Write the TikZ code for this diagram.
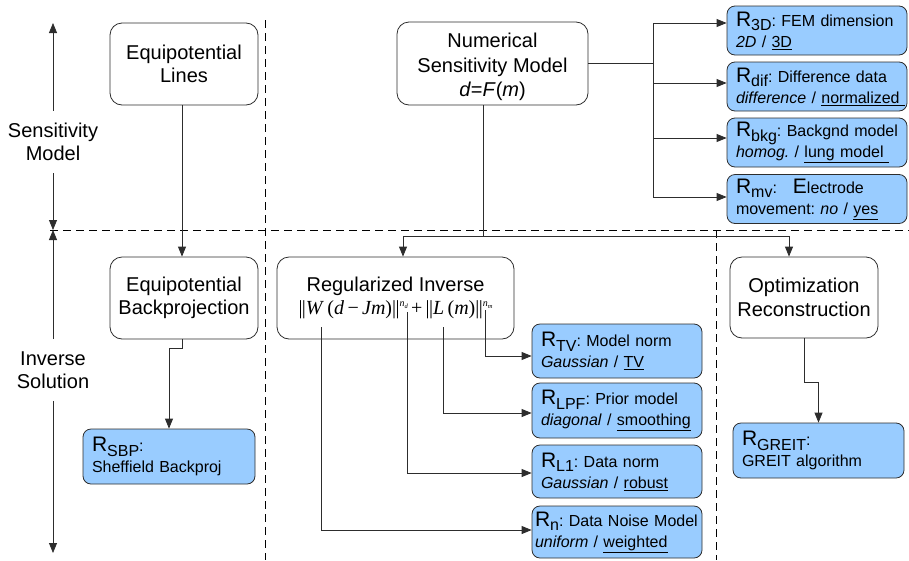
\documentclass[tikz,border=0pt]{standalone}
\usepackage{fontspec}
\setmainfont{Liberation Sans}
\newfontfamily\tms{Liberation Serif}
\usetikzlibrary{arrows.meta,calc}
\definecolor{boxblue}{RGB}{153,204,255}
\definecolor{edge}{RGB}{45,45,45}
\frenchspacing
\newcommand\Rs[1]{{\fontsize{21}{21}\selectfont R}\raisebox{-4.5pt}{\fontsize{16}{16}\selectfont #1}}
\newcommand\BigE{{\fontsize{21}{21}\selectfont E}}
\newcommand\Ln[1]{\mbox{#1}}
\newcommand\dbar{|\kern-0.6pt|}
\newcommand\Pw[2]{\raisebox{8pt}{\fontsize{10}{10}\selectfont\textit{#1}\raisebox{-2pt}{\fontsize{6.5}{6.5}\selectfont\textit{#2}}}}
\tikzset{
  proc/.style={draw=edge, line width=0.8pt, rounded corners=12pt, fill=white, align=center,
    font=\fontsize{20}{23.5}\selectfont, inner sep=2pt},
  rbox/.style={draw=edge, line width=0.8pt, rounded corners=8pt, fill=boxblue, align=left,
    font=\fontsize{16}{21}\selectfont, inner xsep=9pt, inner ysep=2pt, text width=162pt, minimum height=49pt},
  lab/.style={align=center, font=\fontsize{20}{23.5}\selectfont, inner xsep=2pt, inner ysep=12pt},
  arr/.style={-{Triangle[length=10pt,width=8pt]}, draw=edge, line width=0.8pt},
  conn/.style={draw=edge, line width=0.8pt},
  sep/.style={draw=black, line width=0.7pt, dash pattern=on 8pt off 5pt},
}
\begin{document}
\begin{tikzpicture}[x=1pt,y=-1pt]
\path[use as bounding box] (0,0) rectangle (909,560);

% separators
\draw[sep] (50,230) -- (909,230);
\draw[sep] (265,20) -- (265,560);
\draw[sep] (716,230) -- (716,560);

% left phase labels
\node[lab] (sm) at (53,142) {Sensitivity\\Model};
\node[lab] (is) at (53,370) {Inverse\\Solution};
\coordinate (smtop) at (53,23);
\coordinate (smbot) at (53,230);
\coordinate (istop) at (53,230);
\coordinate (isbot) at (53,553);
\draw[arr] (sm.north) -- (smtop);
\draw[arr] (sm.south) -- (smbot);
\draw[arr] (is.north) -- (istop);
\draw[arr] (is.south) -- (isbot);

% process boxes
\node[proc, minimum width=148pt, minimum height=82pt] (eqlines) at (184,64) {Equipotential\\Lines};
\node[proc, minimum width=191pt, minimum height=83pt, font=\fontsize{20}{24.5}\selectfont] (numsens) at (492.5,63.5) {\rule{0pt}{22pt}Numerical\\Sensitivity Model\\\textit{d}=\textit{F}(\textit{m})};
\node[proc, minimum width=148pt, minimum height=82pt] (eqback) at (184,298) {Equipotential\\Backprojection};
\node[proc, minimum width=237pt, minimum height=82pt, font=\fontsize{20}{22}\selectfont] (reginv) at (395.5,298) {Regularized Inverse\\[1pt]{\tms\fontsize{20}{20}\selectfont \dbar\textit{W}\,(\textit{d}\,−\,\textit{Jm})\dbar\Pw{n}{d}\,+\,\dbar\textit{L}\,(\textit{m})\dbar\Pw{n}{m}}};
\node[proc, minimum width=148pt, minimum height=81pt] (optim) at (804,297.5) {Optimization\\Reconstruction};

% blue option boxes, top right
\node[rbox] (r3d) at (817,30.5) {\Ln{\Rs{3D}: FEM dimension}\\ \Ln{\textit{2D} / \underline{3D}}};
\node[rbox] (rdif) at (817,86.5) {\Ln{\Rs{dif}: Difference data}\\ \Ln{\textit{difference} / \underline{normalized\ }}};
\node[rbox] (rbkg) at (817,142.5) {\Ln{\Rs{bkg}: Backgnd model}\\ \Ln{\textit{homog.} / \underline{lung model\ }}};
\node[rbox] (rmv) at (817,199) {\Ln{\Rs{mv}:\quad\BigE lectrode}\\ \Ln{movement: \textit{no} / \underline{yes}}};

% blue option boxes, middle
\node[rbox, text width=152pt, minimum height=54pt] (rtv) at (617,351) {\Ln{\Rs{TV}: Model norm}\\ \Ln{\textit{Gaussian} / \underline{TV}}};
\node[rbox, text width=152pt, minimum height=55pt] (rlpf) at (617,410.5) {\Ln{\Rs{LPF}: Prior model}\\ \Ln{\textit{diagonal} / \underline{smoothing}}};
\node[rbox, text width=152pt, minimum height=53pt] (rl1) at (617,471.5) {\Ln{\Rs{L1}: Data norm}\\ \Ln{\textit{Gaussian} / \underline{robust}}};
\node[rbox, text width=164pt, inner xsep=3pt, minimum height=52pt] (rn) at (617,532) {\Ln{\Rs{n}: Data Noise Model}\\ \Ln{\textit{uniform} / \underline{weighted}}};

% blue boxes, left and right
\node[rbox, text width=154pt, minimum height=55pt] (rsbp) at (169,456.5) {\Ln{\Rs{SBP}:}\\ \Ln{Sheffield Backproj}};
\node[rbox, text width=153pt, minimum height=55pt] (rgreit) at (818.5,450.5) {\Ln{\Rs{GREIT}:}\\ \Ln{GREIT algorithm}};

% connectors: sensitivity model branches
\coordinate (tr) at (653,63.5);
\draw[conn] (numsens.east) -- (tr);
\draw[arr] (tr) |- ([yshift=7.5pt]r3d.west);
\draw[arr] (tr) |- ([yshift=3.5pt]rdif.west);
\draw[arr] (tr) |- ([yshift=4.5pt]rbkg.west);
\draw[arr] (tr) |- ([yshift=2pt]rmv.west);

% numerical model down to inverses
\coordinate (j) at (483,236);
\draw[conn] ([xshift=-9.5pt]numsens.south) -- (j);
\draw[arr] (j) -| ([xshift=7.5pt]reginv.north);
\draw[arr] (j) -| ([xshift=-15pt]optim.north);

% equipotential chain
\draw[arr] ([xshift=-2pt]eqlines.south) -- ([xshift=-2pt]eqback.north);
\draw[arr] ([xshift=-2pt]eqback.south) -- ++(0,9) -| (rsbp.north);

% optimization chain
\draw[arr] (optim.south) -- ++(0,44) -| (rgreit.north);

% formula terms to option boxes
\coordinate (fW) at (321,327);
\coordinate (fnd) at (407,312);
\coordinate (fL) at (443,327);
\coordinate (fnm) at (485,310);
\draw[arr] (fnm) |- ([yshift=-5pt]rtv.west);
\draw[arr] (fL) |- ([yshift=-2.5pt]rlpf.west);
\draw[arr] (fnd) |- ([yshift=-1.5pt]rl1.west);
\draw[arr] (fW) |- ([yshift=2pt]rn.west);
\end{tikzpicture}
\end{document}
